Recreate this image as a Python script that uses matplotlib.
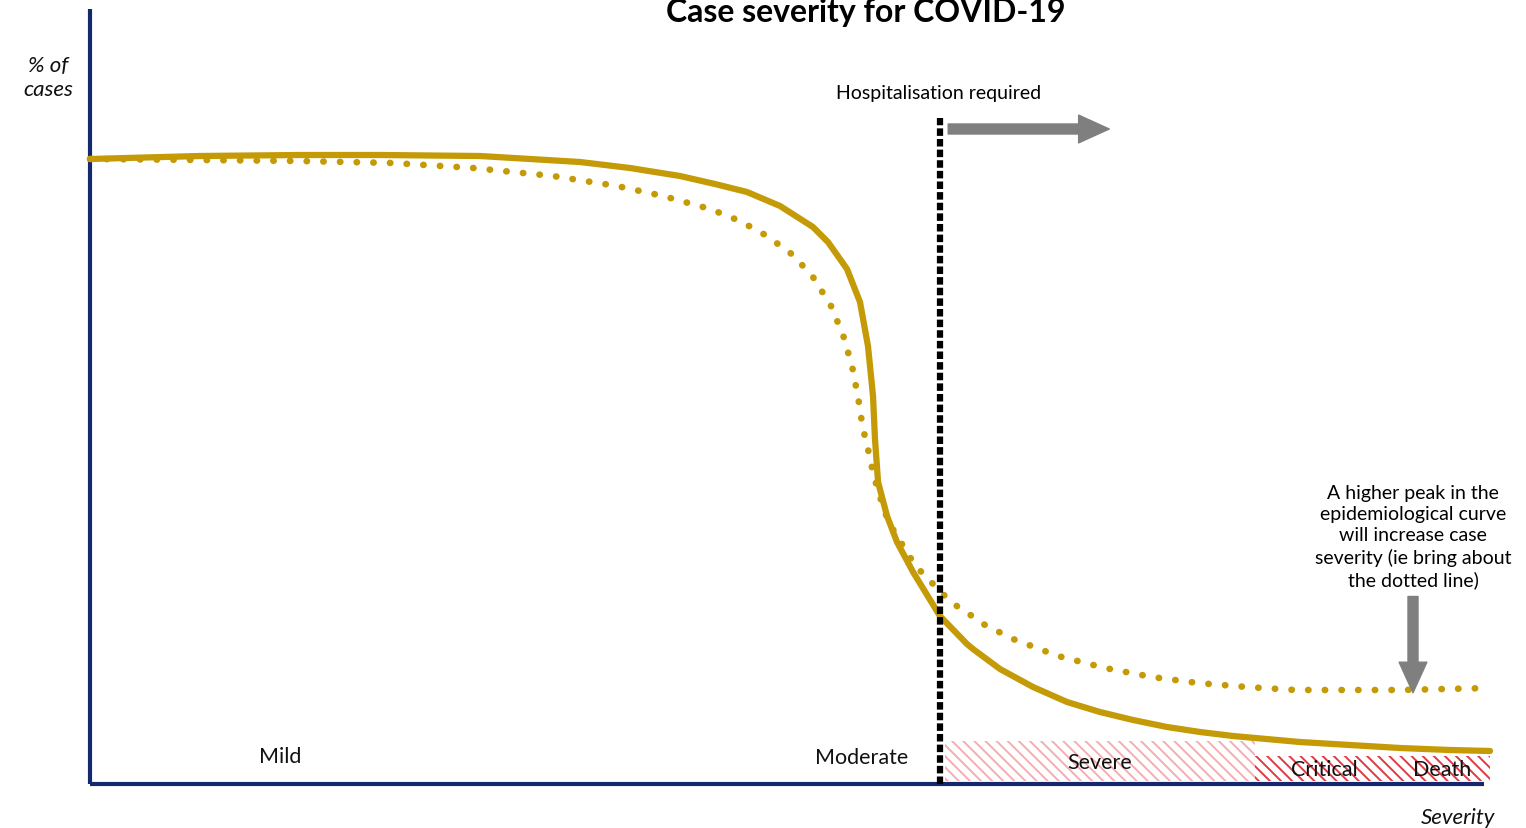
import matplotlib.pyplot as plt
from matplotlib.patches import Rectangle

plt.rcParams['font.family'] = ['Lato', 'DejaVu Sans']
plt.rcParams['hatch.linewidth'] = 1.4

# severity (0-100 along x axis) vs % of cases (100 = starting level)
sev_solid = [0, 7.86, 15, 20.71, 27.86, 35, 38.57, 42.14, 44.64, 46.93, 49.29, 51.64,
             52.71, 53.57, 54.07, 55, 55.57, 55.93, 56.07, 56.29, 56.93, 57.64, 58.79,
             60.71, 62.64, 63.07, 65, 67.36, 69.79, 72.14, 74.5, 76.93, 79.29, 81.64,
             86.43, 90, 93.57, 97.14, 100]
pct_solid = [100, 100.48, 100.64, 100.64, 100.48, 99.52, 98.56, 97.28, 96.0, 94.72, 92.48,
             89.12, 86.72, 84, 82.4, 77.12, 70.08, 62.08, 55.2, 48.32, 42.88, 38.72, 33.92,
             26.88, 22.4, 21.6, 18.4, 15.52, 13.12, 11.52, 10.24, 9.12, 8.32, 7.68,
             6.72, 6.24, 5.76, 5.44, 5.28]

sev_dotted = [0, 7.86, 15, 21.64, 27.36, 33.07, 37.64, 40.93, 44.29, 46.43, 48.36, 50.21,
              51.64, 52.93, 53.79, 54.43, 54.86, 55.21, 55.5, 55.71, 56, 56.29, 57, 57.64,
              58.21, 58.79, 59.5, 60.36, 61.14, 62, 63, 63.93, 64.93, 65.93, 69.14, 72.5,
              75.86, 79.14, 82.64, 86.07, 93.57, 100]
pct_dotted = [100, 99.84, 99.68, 99.36, 98.56, 97.28, 95.68, 94.08, 92, 90.08, 87.68, 84.64,
              81.12, 76.48, 71.84, 66.88, 61.92, 56.8, 54.4, 52, 49.28, 46.88, 42.08, 39.68,
              37.6, 35.52, 33.6, 31.68, 29.92, 28.32, 26.88, 25.44, 24.32, 23.2, 20.48,
              18.56, 17.12, 16.16, 15.52, 15.04, 15.04, 15.36]

hospital_x = 60.7

bands = ['Severe', 'Critical', 'Death']
band_start = [61.1, 83.2, 92.1]
band_end = [83.2, 92.1, 100]
band_top = [6.9, 4.5, 4.5]
band_label_x = [72.1, 88.2, 96.6]
band_label_y = [3.5, 2.4, 2.4]

stages = ['Mild', 'Moderate']
stage_x = [13.6, 55.1]
stage_y = [4.5, 4.3]

gold = '#C49A06'
navy = '#14286E'
grey = '#7F7F7F'

fig = plt.figure(figsize=(15.26, 8.29), dpi=100)
ax = fig.add_axes([0, 0, 1, 1])
ax.set_xlim(-90 / 14, (1526 - 90) / 14)
ax.set_ylim(-44 / 6.25, 785 / 6.25)
ax.axis('off')

# hatched bands
for name, a, b, t in zip(bands, band_start, band_end, band_top):
    col = '#F4AEB2' if name == 'Severe' else '#E23A44'
    ax.add_patch(Rectangle((a, 0.5), b - a, t - 0.5, facecolor='none',
                           edgecolor=col, hatch='\\\\\\', linewidth=0))

# axes
ax.plot([0, 0], [0, 124], color=navy, lw=3, solid_capstyle='butt')
ax.plot([0, 99.6], [0, 0], color=navy, lw=3, solid_capstyle='butt')

ax.plot(sev_solid, pct_solid, color=gold, lw=4.5, solid_capstyle='round',
        solid_joinstyle='round')
ax.plot(sev_dotted, pct_dotted, color=gold, lw=4.8, linestyle=(0, (0.05, 2.45)),
        dash_capstyle='round')

ax.plot([hospital_x, hospital_x], [0, 106.5], color='black', lw=4.5,
        linestyle=(0, (1.2, 0.5)))

ax.annotate('', xy=(72.8, 104.8), xytext=(61.3, 104.8),
            arrowprops=dict(arrowstyle='simple,head_length=1.1,head_width=1.0,tail_width=0.36',
                            color=grey, mutation_scale=20, shrinkA=0, shrinkB=0))
ax.annotate('', xy=(94.5, 14.6), xytext=(94.5, 30.0),
            arrowprops=dict(arrowstyle='simple,head_length=1.1,head_width=1.0,tail_width=0.36',
                            color=grey, mutation_scale=20, shrinkA=0, shrinkB=0))

for name, x, y in zip(stages, stage_x, stage_y):
    ax.text(x, y, name, ha='center', va='center', fontsize=15.5, color='#111111')
for name, x, y in zip(bands, band_label_x, band_label_y):
    ax.text(x, y, name, ha='center', va='center', fontsize=15.5, color='#111111')

ax.text(55.4, (785 - 22) / 6.25, 'Case severity for COVID-19', ha='center', va='baseline',
        fontsize=23, fontweight='bold', color='black')
ax.text(60.6, 110.6, 'Hospitalisation required', ha='center', va='center',
        fontsize=14, color='black')
ax.text(-3.0, 113.1, '% of\ncases', ha='center', va='center', fontsize=16,
        style='italic', color='#111111', linespacing=1.25)
ax.text(97.7, -5.3, 'Severity', ha='center', va='center', fontsize=16,
        style='italic', color='#111111')
ax.text(94.5, 39.7, 'A higher peak in the\nepidemiological curve\nwill increase case\n'
        'severity (ie bring about\nthe dotted line)', ha='center', va='center',
        fontsize=14, color='black', linespacing=1.3)

fig.savefig('out.png', dpi=100)
